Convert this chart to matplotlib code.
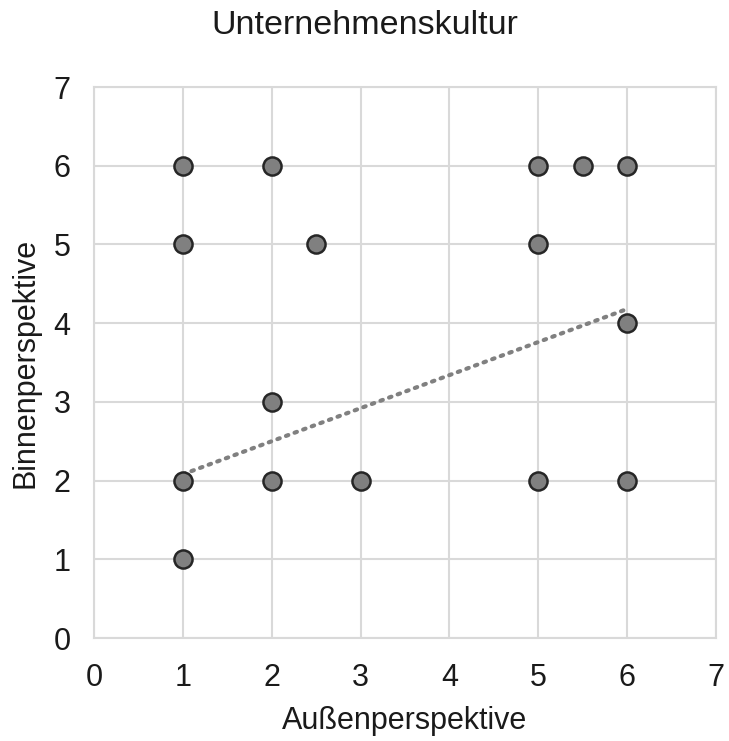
import matplotlib
matplotlib.use("Agg")
import matplotlib.pyplot as plt

# Survey ratings: outside view vs. inside view of company culture
aussen = [1, 2, 5, 5.5, 6, 1, 2.5, 5, 6, 2, 1, 2, 3, 5, 6, 1]
binnen = [6, 6, 6, 6, 6, 5, 5, 5, 4, 3, 2, 2, 2, 2, 2, 1]

# Linear trend line endpoints
trend_x = [1, 6]
trend_y = [2.08, 4.18]

ticks = [0, 1, 2, 3, 4, 5, 6, 7]

plt.rcParams["font.family"] = ["Liberation Sans", "DejaVu Sans"]

fig = plt.figure(figsize=(7.29, 7.41), dpi=100)
ax = fig.add_axes([0.129, 0.139, 0.853, 0.7435])

ax.set_xlim(0, 7)
ax.set_ylim(0, 7)
ax.set_xticks(ticks)
ax.set_yticks(ticks)
ax.grid(True, color="#d9d9d9", linewidth=1.5)
ax.set_axisbelow(True)
for sp in ax.spines.values():
    sp.set_color("#d9d9d9")
    sp.set_linewidth(1.5)
ax.tick_params(length=0, labelsize=22, colors="#1a1a1a")
ax.tick_params(axis="x", pad=18)
ax.tick_params(axis="y", pad=17)

ax.plot(trend_x, trend_y, linestyle=(0, (0.6, 1.6)), color="#808080",
        linewidth=3, dash_capstyle="round", zorder=2)
ax.scatter(aussen, binnen, s=170, color="#808080", edgecolors="#262626",
           linewidths=1.8, zorder=3)

fig.text(0.5, 0.966, "Unternehmenskultur", fontsize=24.5, color="#1a1a1a",
         ha="center", va="center")
ax.set_xlabel("Außenperspektive", fontsize=22, color="#1a1a1a", labelpad=9)
ax.set_ylabel("Binnenperspektive", fontsize=22, color="#1a1a1a", labelpad=9)

fig.savefig("out.png", dpi=100)
